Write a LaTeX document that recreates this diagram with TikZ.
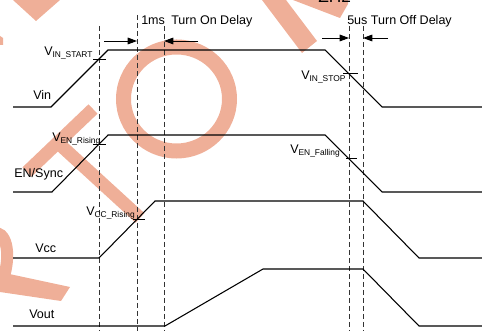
\documentclass[tikz,border=0pt]{standalone}
\usepackage{fontspec}
\setmainfont{Liberation Sans}
\usetikzlibrary{arrows.meta}
\definecolor{wmcol}{RGB}{239,175,152}
\newcommand{\sbs}[1]{\raisebox{-0.8pt}{\fontsize{6.3}{7}\selectfont #1}}
\begin{document}
\begin{tikzpicture}[x=0.75pt,y=-0.75pt,
  sig/.style={line width=0.8pt, black},
  gridline/.style={dash pattern=on 3.75pt off 2.25pt, line width=0.7pt, black!80},
  wm/.style={fill=wmcol, draw=none},
  wmline/.style={draw=wmcol, line cap=butt},
  lbl/.style={inner sep=0pt, anchor=base west, font=\fontsize{9.4}{11}\selectfont},
  tickseg/.style={line width=0.7pt, black},
  dim/.style={line width=0.7pt, black, -{Triangle[length=7pt,width=5pt]}}
]
\useasboundingbox (0,0) rectangle (482,331);

% ---------- watermark ----------
\draw[wmline, line width=11.25pt] (176.5,99) ellipse [x radius=39.75pt, y radius=39pt];
\draw[wmline, line width=9.75pt] (93,109) -- (27,172);
\draw[wmline, line width=9.75pt] (57,142) -- (140,218);
\fill[wm] (13,0) -- (60,0) -- (36,21) -- cycle;
\fill[wm] (0,36) -- (3,38) -- (3,45) -- (0,45) -- cycle;
\fill[wm] (262,0) -- (286,0) -- (317,41) -- (302,53) -- cycle;
\fill[wm] (293,0) -- (340,18) -- (348,4) -- (348,0) -- cycle;
\draw[wmline, line width=9pt] (-3,233) .. controls (9,236) and (10,262) .. (2,282);
\fill[wm] (0,272) -- (70,287) -- (61,301) -- (0,292) -- cycle;

% partially visible heading
\node[inner sep=0pt, anchor=base west, font=\fontsize{13}{15}\selectfont] (head) at (318,3) {ZH2};

% ---------- dashed time markers ----------
\coordinate (d1t) at (99,26);  \coordinate (d1b) at (99,331);
\coordinate (d2t) at (137,15); \coordinate (d2b) at (137,331);
\coordinate (d3t) at (164,26); \coordinate (d3b) at (164,331);
\coordinate (d4t) at (349,26); \coordinate (d4b) at (349,331);
\coordinate (d5t) at (363,26); \coordinate (d5b) at (363,331);
\draw[gridline] (d1t) -- (d1b);
\draw[gridline] (d2t) -- (d2b);
\draw[gridline] (d3t) -- (d3b);
\draw[gridline] (d4t) -- (d4b);
\draw[gridline] (d5t) -- (d5b);

% ---------- waveforms ----------
\draw[sig] (13,107) -- (51,107) -- (108,50) -- (325,50) -- (382,107) -- (482,107);
\draw[sig] (13,192) -- (52,192) -- (108,135) -- (325,135) -- (382,192) -- (482,192);
\draw[sig] (13,258) -- (99,258) -- (155,201) -- (363,201) -- (419,258) -- (482,258);
\draw[sig] (13,326) -- (165,326) -- (263,269) -- (363,269) -- (419,326) -- (482,326);

% ---------- threshold ticks ----------
\draw[tickseg] (93,59) -- (106,59);
\draw[tickseg] (93,144) -- (106,144);
\draw[tickseg] (133,219) -- (145,219);
\draw[tickseg] (343,73) -- (358,73);
\draw[tickseg] (346,158) -- (357,158);

% ---------- delay arrows ----------
\coordinate (a1s) at (104,41); \coordinate (a1e) at (137,41);
\coordinate (a2s) at (198,41); \coordinate (a2e) at (164,41);
\coordinate (a3s) at (322,38); \coordinate (a3e) at (349,38);
\coordinate (a4s) at (388,38); \coordinate (a4e) at (363,38);
\draw[dim] (a1s) -- (a1e);
\draw[dim] (a2s) -- (a2e);
\draw[dim] (a3s) -- (a3e);
\draw[dim] (a4s) -- (a4e);

% ---------- texts ----------
\node[lbl] (t1ms) at (141,25) {1ms};
\node[lbl] (tond) at (171,25) {Turn On Delay};
\node[lbl] (toffd) at (347,25) {5us Turn Off Delay};

\node[lbl] (lvin) at (33,100) {Vin};
\node[lbl] (len) at (14,178) {EN/Sync};
\node[lbl] (lvcc) at (35,253) {Vcc};
\node[lbl] (lvout) at (29,319) {Vout};

\node[lbl] (vinstart) at (44,56) {V\sbs{IN\_START}};
\node[lbl] (venrise) at (52,142) {V\sbs{EN\_Rising}};
\node[lbl] (vccrise) at (86,216) {V\sbs{CC\_Rising}};
\node[lbl] (vinstop) at (301,80) {V\sbs{IN\_STOP}};
\node[lbl] (venfall) at (290,154) {V\sbs{EN\_Falling}};
\end{tikzpicture}
\end{document}
